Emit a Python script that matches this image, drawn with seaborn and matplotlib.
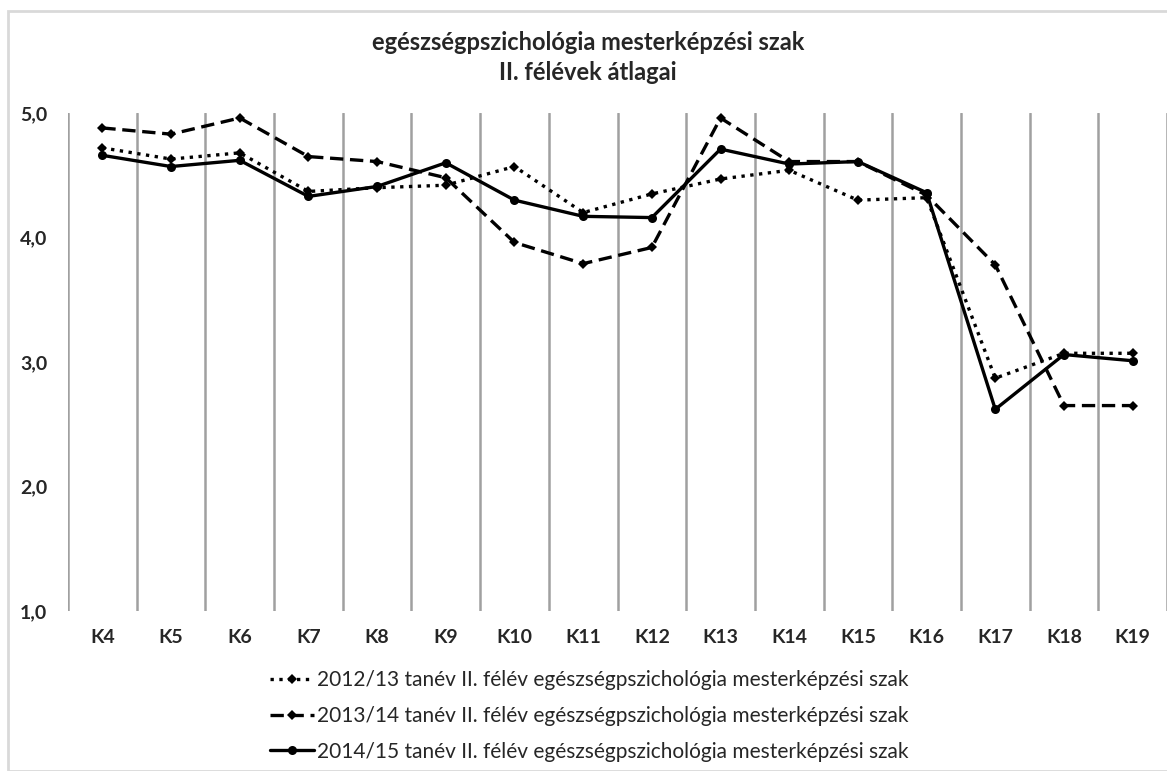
import numpy as np
import pandas as pd
import matplotlib as mpl
import matplotlib.pyplot as plt
import seaborn as sns
from matplotlib.lines import Line2D
from matplotlib.patches import Rectangle

# Adatok
kerdesek = ['K4', 'K5', 'K6', 'K7', 'K8', 'K9', 'K10', 'K11', 'K12', 'K13',
            'K14', 'K15', 'K16', 'K17', 'K18', 'K19']
ev_2012 = [4.72, 4.63, 4.68, 4.37, 4.40, 4.42, 4.57, 4.20, 4.35, 4.47,
           4.54, 4.30, 4.32, 2.87, 3.07, 3.07]
ev_2013 = [4.88, 4.83, 4.96, 4.65, 4.61, 4.48, 3.96, 3.79, 3.92, 4.96,
           4.61, 4.61, 4.34, 3.78, 2.65, 2.65]
ev_2014 = [4.66, 4.57, 4.62, 4.33, 4.41, 4.60, 4.30, 4.17, 4.16, 4.71,
           4.59, 4.61, 4.36, 2.62, 3.06, 3.01]
cimkek = ['2012/13 tanév II. félév egészségpszichológia mesterképzési szak',
          '2013/14 tanév II. félév egészségpszichológia mesterképzési szak',
          '2014/15 tanév II. félév egészségpszichológia mesterképzési szak']
y_ticks = [1.0, 2.0, 3.0, 4.0, 5.0]

GRID = '#a0a0a0'
FRAME = '#d9d9d9'

sns.set_style('white')
plt.rcParams['font.family'] = ['Lato', 'DejaVu Sans']

fig = plt.figure(figsize=(11.67, 7.71), dpi=100)
fig.patch.set_facecolor('white')
# kulso keret
fig.add_artist(Rectangle((8 / 1167, 0), 1.2, 1 - 11 / 771, transform=fig.transFigure,
                         fill=False, edgecolor=FRAME, linewidth=2))

ax = fig.add_axes([68 / 1167, 1 - 611 / 771, 1 - 68 / 1167, (611 - 113) / 771])

stilusok = [(':', 'D', 5), ((0, (4, 2)), 'D', 5), ('-', 'o', 6.5)]
for vals, (ls, mk, ms) in zip([ev_2012, ev_2013, ev_2014], stilusok):
    sns.lineplot(x=kerdesek, y=vals, ax=ax, color='black', linewidth=2.4,
                 linestyle=ls, marker=mk, markersize=ms, markeredgewidth=0,
                 sort=False, legend=False)

ax.set_xlim(-0.5, len(kerdesek) - 0.5)
ax.set_ylim(1.0, 5.0)
ax.set_yticks(y_ticks)
ax.set_yticklabels([f'{v:.1f}'.replace('.', ',') for v in y_ticks])
for b in np.arange(-0.5, len(kerdesek), 1.0):
    ax.axvline(b, color=GRID, linewidth=1.8, zorder=0)
for s in ax.spines.values():
    s.set_visible(False)
ax.tick_params(axis='y', length=0, pad=15, labelsize=14)
ax.tick_params(axis='x', length=0, pad=13, labelsize=14)
for t in ax.get_xticklabels() + ax.get_yticklabels():
    t.set_fontweight('bold')
ax.set_xlabel('')
ax.set_ylabel('')

fig.text(0.504, 1 - 42 / 771, 'egészségpszichológia mesterképzési szak',
         ha='center', va='center', fontsize=17, fontweight='bold')
fig.text(0.504, 1 - 73 / 771, 'II. félévek átlagai',
         ha='center', va='center', fontsize=17, fontweight='bold')

handles = [Line2D([], [], color='black', linewidth=2.4, linestyle=ls, marker=mk,
                  markersize=ms, markeredgewidth=0) for ls, mk, ms in stilusok]
leg = fig.legend(handles, cimkek, loc='center', bbox_to_anchor=(0.505, 1 - 716 / 771),
                 ncol=1, frameon=False, fontsize=15, handlelength=2.1,
                 handletextpad=0.15, labelspacing=0.75)

fig.savefig('out.png', dpi=100, facecolor='white')
